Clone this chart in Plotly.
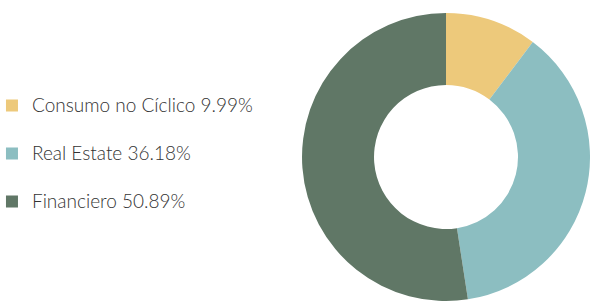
import plotly.graph_objects as go

categories = ["Consumo no Cíclico", "Real Estate", "Financiero"]
values = [9.99, 36.18, 50.89]
colors = ["#EDC97B", "#8CBEC1", "#607766"]

labels = [
    f"<span style='font-size:19px'>{c} {v:.2f}%</span><br>&nbsp;"
    for c, v in zip(categories, values)
]

fig = go.Figure(go.Pie(
    labels=labels,
    values=values,
    marker=dict(colors=colors, line=dict(width=0)),
    hole=0.5,
    sort=False,
    direction="clockwise",
    rotation=0,
    textinfo="none",
    hoverinfo="percent",
    domain=dict(x=[0.5119, 1.0], y=[0, 1]),
))

fig.update_layout(
    width=590, height=302,
    margin=dict(l=0, r=0, t=13, b=1, autoexpand=False),
    paper_bgcolor="white",
    plot_bgcolor="white",
    showlegend=True,
    legend=dict(
        x=-0.0136, xanchor="left",
        y=0.7406, yanchor="top",
        valign="top",
        font=dict(family="Lato", size=17.3, color="#333333", weight=300),
        bgcolor="rgba(0,0,0,0)",
        traceorder="normal",
    ),
)

fig.write_html(
    "out.html",
    config={"displayModeBar": False},
    post_script="document.body.style.margin='0';document.body.style.overflow='hidden';",
)
